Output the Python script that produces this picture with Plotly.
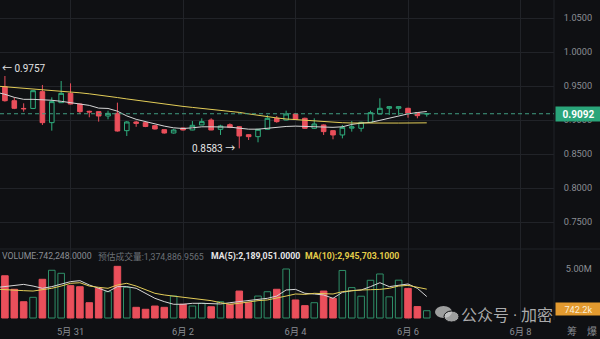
import pandas as pd
import plotly.graph_objects as go

# ---- 4h candles, 29 May 16:00 -> 6 Jun 08:00 ----
times = pd.date_range("2024-05-29 16:00", periods=47, freq="4h")

opens = [0.9560, 0.9490, 0.9284, 0.9170, 0.9170, 0.9417, 0.8961, 0.9255,
         0.9392, 0.9235, 0.9128, 0.9123, 0.9059, 0.9098, 0.8843, 0.8971,
         0.8961, 0.8917, 0.8858, 0.8809, 0.8882, 0.8853, 0.8927, 0.9000,
         0.8863, 0.8931, 0.8902, 0.8784, 0.8755, 0.8863, 0.9025, 0.9000,
         0.9088, 0.9025, 0.8878, 0.8927, 0.8843, 0.8780, 0.8880, 0.8878,
         0.8966, 0.9088, 0.9172, 0.9172, 0.9172, 0.9108, 0.9088]
highs = [0.9757, 0.9647, 0.9333, 0.9245, 0.9440, 0.9515, 0.9333, 0.9574,
         0.9539, 0.9240, 0.9137, 0.9125, 0.9137, 0.9255, 0.8985, 0.8990,
         0.8965, 0.8925, 0.8862, 0.8870, 0.8890, 0.8985, 0.9025, 0.9025,
         0.8930, 0.8950, 0.8910, 0.8790, 0.8870, 0.9074, 0.9059, 0.9137,
         0.9100, 0.9035, 0.9025, 0.8935, 0.8850, 0.8927, 0.8985, 0.8975,
         0.9137, 0.9319, 0.9206, 0.9200, 0.9180, 0.9110, 0.9100]
lows = [0.9460, 0.9270, 0.9160, 0.9123, 0.9160, 0.8927, 0.8843, 0.9250,
        0.9230, 0.9088, 0.9040, 0.8976, 0.9010, 0.8830, 0.8765, 0.8900,
        0.8895, 0.8860, 0.8800, 0.8800, 0.8845, 0.8850, 0.8925, 0.8850,
        0.8780, 0.8880, 0.8583, 0.8706, 0.8672, 0.8860, 0.8960, 0.8995,
        0.9000, 0.8870, 0.8870, 0.8780, 0.8716, 0.8730, 0.8829, 0.8829,
        0.8960, 0.9085, 0.9074, 0.9074, 0.9034, 0.9025, 0.9049]
closes = [0.9490, 0.9284, 0.9172, 0.9165, 0.9431, 0.8961, 0.9270, 0.9392,
          0.9235, 0.9123, 0.9118, 0.9059, 0.9098, 0.8838, 0.8971, 0.8951,
          0.8905, 0.8868, 0.8809, 0.8853, 0.8853, 0.8922, 0.8976, 0.8853,
          0.8912, 0.8892, 0.8765, 0.8755, 0.8863, 0.9025, 0.8976, 0.9088,
          0.9010, 0.8878, 0.8941, 0.8829, 0.8780, 0.8892, 0.8900, 0.8966,
          0.9108, 0.9172, 0.9196, 0.9196, 0.9098, 0.9064, 0.9092]

# price moving averages (short = white, long = yellow)
ma_short = [0.9410, 0.9378, 0.9333, 0.9304, 0.9304, 0.9300, 0.9290, 0.9275,
            0.9255, 0.9240, 0.9215, 0.9175, 0.9170, 0.9130, 0.9060, 0.9010,
            0.8975, 0.8950, 0.8910, 0.8885, 0.8875, 0.8885, 0.8900, 0.8900,
            0.8898, 0.8895, 0.8880, 0.8865, 0.8865, 0.8880, 0.8895, 0.8905,
            0.8910, 0.8905, 0.8900, 0.8895, 0.8892, 0.8900, 0.8935, 0.8955,
            0.8965, 0.8995, 0.9030, 0.9060, 0.9090, 0.9110, 0.9125]
ma_long = [0.9500, 0.9490, 0.9480, 0.9470, 0.9460, 0.9450, 0.9440, 0.9430,
           0.9415, 0.9400, 0.9385, 0.9370, 0.9350, 0.9330, 0.9310, 0.9290,
           0.9270, 0.9250, 0.9232, 0.9215, 0.9200, 0.9185, 0.9172, 0.9160,
           0.9148, 0.9132, 0.9112, 0.9090, 0.9068, 0.9048, 0.9030, 0.9015,
           0.9005, 0.8995, 0.8982, 0.8972, 0.8965, 0.8960, 0.8956, 0.8954,
           0.8953, 0.8953, 0.8954, 0.8955, 0.8956, 0.8957, 0.8958]

# volume, millions
volumes = [3.50, 4.31, 2.93, 1.66, 2.11, 3.95, 4.87, 4.56,
           3.30, 3.19, 1.56, 3.03, 2.68, 5.27, 3.13, 1.09,
           0.89, 1.22, 1.09, 2.24, 1.40, 1.22, 1.50, 1.15,
           1.66, 1.40, 2.75, 1.56, 2.24, 2.68, 2.93, 5.00,
           1.84, 1.26, 1.56, 2.75, 2.00, 4.85, 3.10, 2.221776,
           3.85, 4.49, 2.16, 3.86, 3.02, 1.163007, 0.742248]
vol_ma5 = [3.10, 3.20, 3.37, 3.43, 3.26, 3.03, 3.20, 3.47,
           3.71, 3.81, 3.37, 3.03, 2.69, 3.20, 3.20, 3.03,
           2.52, 2.01, 1.67, 1.40, 1.40, 1.50, 1.50, 1.50,
           1.43, 1.56, 1.67, 1.77, 1.90, 2.01, 2.24, 2.86,
           2.92, 2.52, 2.45, 2.35, 2.01, 2.62, 2.79, 2.86,
           3.20, 3.60, 3.20, 3.37, 3.47, 3.03, 2.189051]
vol_ma10 = [2.95, 2.92, 2.86, 2.79, 2.75, 2.86, 3.03, 3.26,
            3.54, 3.60, 3.26, 3.13, 3.03, 3.37, 3.54, 3.26,
            2.86, 2.52, 2.35, 2.24, 2.11, 2.01, 1.90, 1.77,
            1.56, 1.40, 1.50, 1.67, 1.77, 1.84, 2.01, 2.24,
            2.45, 2.41, 2.52, 2.52, 2.45, 2.69, 2.79, 2.86,
            2.89, 2.92, 3.03, 3.26, 3.33, 3.13, 2.9457031]
est_volume = 1374886.9565

tick_dates = ["2024-05-31", "2024-06-02", "2024-06-04", "2024-06-06", "2024-06-08"]
tick_text = ["5月 31", "6月 2", "6月 4", "6月 6", "6月 8"]
price_ticks = [0.75, 0.80, 0.85, 0.90, 0.95, 1.00, 1.05]

# ---- styling ----
BG = "#0f1013"
GRID = "#212328"
RED = "#ea4f5b"
GREEN = "#2fae7e"
VGREEN = "#2f8f68"
WHITE_MA = "#d6d6d6"
YELLOW_MA = "#e3cd58"
AXIS_TXT = "#8b8e94"
FONT = "Roboto, 'Noto Sans CJK SC', sans-serif"
HDR = 8.75

W, H = 600, 339
PLOT_W = 554
PLOT_H = 320
SPLIT = (PLOT_H - 249) / PLOT_H      # pane boundary, paper units

def px(x):
    return x / PLOT_W

def py(y):
    return (PLOT_H - y) / PLOT_H

fig = go.Figure()

fig.add_trace(go.Candlestick(
    x=times, open=opens, high=highs, low=lows, close=closes,
    increasing=dict(line=dict(color=GREEN, width=1), fillcolor=BG),
    decreasing=dict(line=dict(color=RED, width=1), fillcolor=RED),
    whiskerwidth=0, hoverinfo="skip", yaxis="y",
))
fig.add_trace(go.Scatter(x=times, y=ma_short, mode="lines",
                         line=dict(color=WHITE_MA, width=1), hoverinfo="skip"))
fig.add_trace(go.Scatter(x=times, y=ma_long, mode="lines",
                         line=dict(color=YELLOW_MA, width=1), hoverinfo="skip"))

# volume pane
up = [c >= o for o, c in zip(opens, closes)]
bar_w = 0.7 * 4 * 3600 * 1000
fig.add_trace(go.Bar(
    x=times, y=volumes, width=bar_w, yaxis="y2",
    marker=dict(color=[BG if u else RED for u in up],
                line=dict(color=[VGREEN if u else RED for u in up], width=1)),
    hoverinfo="skip",
))
fig.add_trace(go.Scatter(x=times, y=vol_ma5, mode="lines", yaxis="y2",
                         line=dict(color=WHITE_MA, width=1), hoverinfo="skip"))
fig.add_trace(go.Scatter(x=times, y=vol_ma10, mode="lines", yaxis="y2",
                         line=dict(color=YELLOW_MA, width=1), hoverinfo="skip"))

t0 = pd.Timestamp("2024-05-31 00:00")
x_range = [t0 - pd.Timedelta(hours=30.1), t0 + pd.Timedelta(hours=206.3)]

fig.update_layout(
    width=W, height=H,
    margin=dict(l=0, r=W - PLOT_W, t=0, b=H - PLOT_H),
    paper_bgcolor=BG, plot_bgcolor=BG,
    showlegend=False,
    font=dict(family=FONT, size=10, color=AXIS_TXT),
    xaxis=dict(
        type="date", range=x_range, anchor="y2",
        rangeslider=dict(visible=False),
        tickvals=tick_dates, ticktext=tick_text,
        showgrid=True, gridcolor=GRID, gridwidth=1,
        zeroline=False, showline=False,
        ticks="outside", ticklen=3, tickcolor=BG,
        tickfont=dict(size=9.3, color=AXIS_TXT),
    ),
    yaxis=dict(
        domain=[SPLIT, 1], side="right", anchor="x",
        range=[0.71029, 1.07647],
        tickvals=price_ticks, tickformat=".4f",
        showgrid=True, gridcolor=GRID, gridwidth=1,
        zeroline=False, showline=False,
        ticks="outside", ticklen=7, tickcolor=BG,
        tickfont=dict(size=9.2, color=AXIS_TXT),
    ),
    yaxis2=dict(
        domain=[0, SPLIT], side="right", anchor="x",
        range=[-0.204, 7.04],
        tickvals=[5], ticktext=["5.00M"],
        showgrid=False, zeroline=False, showline=False,
        ticks="outside", ticklen=9, tickcolor=BG,
        tickfont=dict(size=9.2, color=AXIS_TXT),
    ),
)

shapes = [
    # pane separator
    dict(type="line", xref="paper", yref="paper", x0=0, x1=W / PLOT_W,
         y0=SPLIT, y1=SPLIT, line=dict(color=GRID, width=1)),
    # right edge of chart area
    dict(type="line", xref="paper", yref="paper", x0=1, x1=1,
         y0=0, y1=1, line=dict(color=GRID, width=1)),
    # last price line
    dict(type="line", xref="paper", yref="y", x0=0, x1=1,
         y0=closes[-1], y1=closes[-1],
         line=dict(color="#3f9c80", width=1, dash="4px,3px")),
    # WeChat mark
    dict(type="circle", xref="paper", yref="paper",
         x0=px(435), x1=px(452), y0=py(318), y1=py(306),
         fillcolor="rgba(205,205,205,0.75)", line=dict(width=0)),
    dict(type="circle", xref="paper", yref="paper",
         x0=px(444), x1=px(459), y0=py(322), y1=py(311),
         fillcolor="rgba(205,205,205,0.75)", line=dict(color=BG, width=1)),
]
fig.update_layout(shapes=shapes)

hi_val = max(highs)
lo_val = min(lows)
lo_idx = lows.index(lo_val)
last_vol = volumes[-1] * 1e6

ann = [
    dict(xref="paper", yref="y", x=0, y=hi_val, xanchor="left", yanchor="middle",
         text=f"← {hi_val:.4f}", showarrow=False,
         font=dict(size=10, color="#e2e2e2")),
    dict(xref="x", yref="y", x=times[lo_idx], y=lo_val, xanchor="right",
         yanchor="middle", xshift=-2, text=f"{lo_val:.4f} →", showarrow=False,
         font=dict(size=10, color="#e2e2e2")),
    # last price tag
    dict(xref="paper", yref="y", x=1, y=closes[-1], xanchor="left",
         yanchor="middle", xshift=1, text=f"<b>{closes[-1]:.4f}</b>",
         showarrow=False, bgcolor="#2aa57a", width=43, height=12, borderpad=1,
         font=dict(size=10, color="#ffffff")),
    # last volume tag
    dict(xref="paper", yref="y2", x=1, y=volumes[-1], xanchor="left",
         yanchor="middle", xshift=1, yshift=2, text=f"{last_vol / 1000:.1f}k",
         showarrow=False, bgcolor="#e39a2f", width=43, height=10, borderpad=1,
         font=dict(size=9.2, color="#fbeed6")),
    # volume pane header
    dict(xref="paper", yref="paper", x=px(0), y=py(256), xanchor="left",
         yanchor="middle", showarrow=False,
         text=f"VOLUME:{last_vol:,.4f}", font=dict(size=HDR, color=AXIS_TXT)),
    dict(xref="paper", yref="paper", x=px(96), y=py(256), xanchor="left",
         yanchor="middle", showarrow=False,
         text=f"预估成交量:{est_volume:,.4f}", font=dict(size=HDR, color="#6c7077")),
    dict(xref="paper", yref="paper", x=px(209), y=py(256), xanchor="left",
         yanchor="middle", showarrow=False,
         text=f"<b>MA(5):{vol_ma5[-1] * 1e6:,.4f}</b>",
         font=dict(size=HDR, color="#e6e6e6")),
    dict(xref="paper", yref="paper", x=px(303), y=py(256), xanchor="left",
         yanchor="middle", showarrow=False,
         text=f"<b>MA(10):{vol_ma10[-1] * 1e6:,.4f}</b>",
         font=dict(size=HDR, color="#e3cd4a")),
    # bottom-right tool labels
    dict(xref="paper", yref="paper", x=px(572), y=py(331), xanchor="center",
         yanchor="middle", showarrow=False, text="筹",
         font=dict(size=10, color="#8a8d93")),
    dict(xref="paper", yref="paper", x=px(592), y=py(331), xanchor="center",
         yanchor="middle", showarrow=False, text="爆",
         font=dict(size=10, color="#8a8d93")),
    # watermark
    dict(xref="paper", yref="paper", x=px(459), y=py(315), xanchor="left",
         yanchor="middle", showarrow=False, text="公众号 · 加密",
         font=dict(size=16, color="rgba(215,215,215,0.78)")),
]
fig.update_layout(annotations=ann)

fig.write_html("out.html")
